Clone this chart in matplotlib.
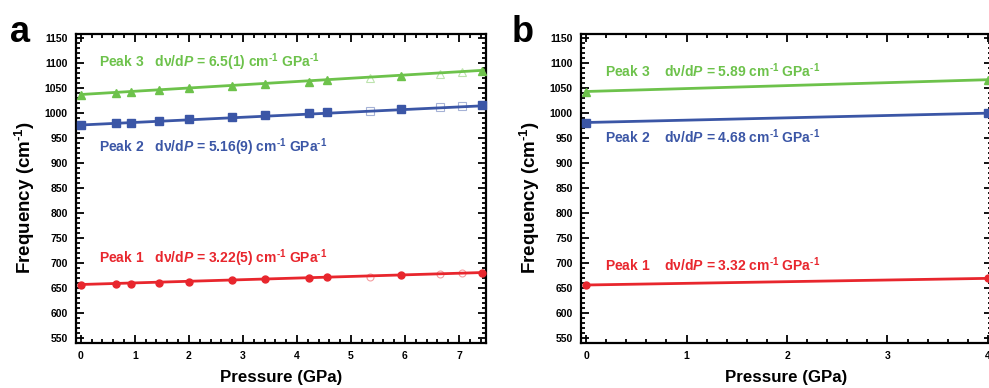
import numpy as np
import matplotlib.pyplot as plt
from matplotlib.ticker import MultipleLocator

plt.switch_backend("Agg")
plt.rcParams["font.family"] = ["Liberation Sans", "DejaVu Sans"]
plt.rcParams["font.weight"] = "bold"
plt.rcParams["mathtext.fontset"] = "custom"
plt.rcParams["mathtext.rm"] = "Liberation Sans:bold"
plt.rcParams["mathtext.bf"] = "Liberation Sans:bold"
plt.rcParams["mathtext.it"] = "Liberation Sans:bold:italic"
plt.rcParams["mathtext.default"] = "bf"

# 数据：面板 a（实测点）
pressure_a = [0, 0.65, 0.92, 1.44, 2.0, 2.8, 3.41, 4.22, 4.55, 5.36, 5.93, 6.64, 7.05, 7.42]
is_open_a = [False, False, False, False, False, False, False, False, False, True, False, True, True, False]
peak1_a = [657, 658.5, 659, 661, 663, 666, 668, 670.5, 672, 673, 676, 678.5, 680, 681]
peak2_a = [976, 979.5, 980.5, 984.5, 988, 992, 996, 1000.5, 1002.5, 1004.5, 1009, 1011.5, 1013.5, 1015.5]
peak3_a = [1037, 1041, 1043, 1046, 1050, 1055, 1058, 1063, 1066, 1071, 1075, 1079, 1082, 1085]
slope_a = [3.22, 5.16, 6.5]
intercept_a = [657, 976, 1037]

# 数据：面板 b（计算结果）
pressure_b = [0, 4]
peak1_b = [656, 669.3]
peak2_b = [981, 999.7]
peak3_b = [1043, 1066.6]

SUP = "$^{\u2010 1}$"
labels_a = ["Peak 1   d\u03bd/d$\\mathit{P}$ = 3.22(5) cm" + SUP + " GPa" + SUP,
            "Peak 2   d\u03bd/d$\\mathit{P}$ = 5.16(9) cm" + SUP + " GPa" + SUP,
            "Peak 3   d\u03bd/d$\\mathit{P}$ = 6.5(1) cm" + SUP + " GPa" + SUP]
labels_b = ["Peak 1    d\u03bd/d$\\mathit{P}$ = 3.32 cm" + SUP + " GPa" + SUP,
            "Peak 2    d\u03bd/d$\\mathit{P}$ = 4.68 cm" + SUP + " GPa" + SUP,
            "Peak 3    d\u03bd/d$\\mathit{P}$ = 5.89 cm" + SUP + " GPa" + SUP]

COLORS = ["#E8262D", "#3B56A6", "#6DC24B"]
MARKERS = ["o", "s", "^"]
MSIZE = [5, 5.5, 6]

W, H = 989, 388
fig = plt.figure(figsize=(W / 100, H / 100), dpi=100)


def px_axes(x0, x1, y0, y1):
    return fig.add_axes([x0 / W, 1 - y1 / H, (x1 - x0) / W, (y1 - y0) / H])


def style_axes(ax, xmin, xmax):
    ax.set_xlim(xmin, xmax)
    ax.set_ylim(540, 1158)
    ax.xaxis.set_major_locator(MultipleLocator(1))
    ax.xaxis.set_minor_locator(MultipleLocator(0.2))
    ax.yaxis.set_major_locator(MultipleLocator(50))
    ax.yaxis.set_minor_locator(MultipleLocator(10))
    ax.tick_params(which="both", direction="in", top=True, right=True, width=1.3)
    ax.tick_params(which="major", length=6, labelsize=7.5, pad=6)
    ax.tick_params(which="minor", length=3)
    for s in ax.spines.values():
        s.set_linewidth(1.6)
    for lab in ax.get_xticklabels() + ax.get_yticklabels():
        lab.set_fontweight("bold")
    ax.set_xlabel("Pressure (GPa)", fontsize=12.2, fontweight="bold", labelpad=6)
    ax.set_ylabel("Frequency (cm" + SUP + ")", fontsize=13.5, fontweight="bold")
    ax.yaxis.set_label_coords(-0.095, 0.47)


# 面板 a
ax1 = px_axes(76, 486, 34, 343)
style_axes(ax1, -0.09, 7.5)
xfit = np.array([0, 7.5])
for k, ys in enumerate([peak1_a, peak2_a, peak3_a]):
    c = COLORS[k]
    ax1.plot(xfit, intercept_a[k] + slope_a[k] * xfit, color=c, lw=2, zorder=2)
    xs = np.array(pressure_a)
    ys = np.array(ys)
    op = np.array(is_open_a)
    ax1.plot(xs[~op], ys[~op], ls="none", marker=MARKERS[k], ms=MSIZE[k],
             color=c, zorder=3, clip_on=False)
    ax1.plot(xs[op], ys[op], ls="none", marker=MARKERS[k], ms=MSIZE[k],
             mfc="none", mec=c, mew=0.8, alpha=0.45, zorder=3)
text_y_a = [710, 932, 1102]
for k in range(3):
    ax1.text(0.33, text_y_a[k], labels_a[k], color=COLORS[k], fontsize=10,
             fontweight="bold", va="center", ha="left")

# 面板 b
ax2 = px_axes(581, 992, 34, 343)
style_axes(ax2, -0.05, 4.04)
for k, ys in enumerate([peak1_b, peak2_b, peak3_b]):
    ax2.plot(pressure_b, ys, color=COLORS[k], lw=2, marker=MARKERS[k],
             ms=MSIZE[k], zorder=3)
text_y_b = [697, 953, 1085]
for k in range(3):
    ax2.text(0.19, text_y_b[k], labels_b[k], color=COLORS[k], fontsize=10,
             fontweight="bold", va="center", ha="left")

fig.text(10 / W, 1 - 33 / H, "a", fontsize=26, fontweight="bold", va="center")
fig.text(512 / W, 1 - 33 / H, "b", fontsize=26, fontweight="bold", va="center")

fig.savefig("out.png", dpi=100)
